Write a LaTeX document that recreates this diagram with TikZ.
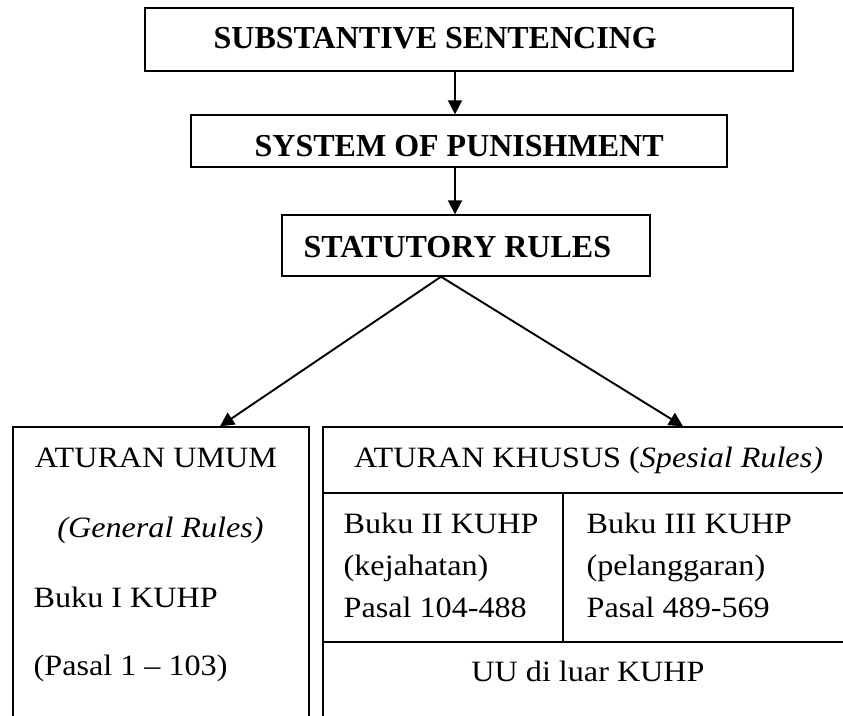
\documentclass[tikz,border=0pt]{standalone}
\usepackage{fontspec}
\setmainfont{Liberation Serif}
\newfontfamily\widefont[FakeStretch=1.09, Ligatures=TeX]{Liberation Serif}
\usetikzlibrary{arrows.meta}
\begin{document}
\begin{tikzpicture}[x=1pt, y=-1pt, line width=1.4pt,
    frame/.style={draw, rectangle, inner sep=0pt},
    head/.style={font=\fontsize{32}{38}\selectfont\bfseries, inner sep=0pt, anchor=base west},
    txt/.style={font=\widefont\fontsize{29.5}{36}\selectfont, inner sep=0pt},
    arr/.style={-{Triangle[length=14pt,width=14pt]}, line width=1.9pt}]
    \useasboundingbox (0,0) rectangle (843,715);
    \clip (0,0) rectangle (843,715);

    % Kotak atas
    \node[frame, minimum width=648, minimum height=63] (b1) at (469,39.5) {};
    \node[frame, minimum width=536, minimum height=52] (b2) at (459,141) {};
    \node[frame, minimum width=368, minimum height=61] (b3) at (466,245.5) {};
    \node[head] (t1) at (213,48) {SUBSTANTIVE SENTENCING};
    \node[head] (t2) at (254,156) {SYSTEM OF PUNISHMENT};
    \node[head] (t3) at (303,257) {STATUTORY RULES};

    % Kotak bawah (terpotong di tepi)
    \node[frame, minimum width=296, minimum height=400] (umum) at (161,627) {};
    \node[frame, minimum width=557, minimum height=400] (khusus) at (601.5,627) {};
    \draw (khusus.west |- 0,493) -- (khusus.east |- 0,493);
    \draw (khusus.west |- 0,642) -- (khusus.east |- 0,642);
    \draw (563,493) -- (563,642);

    % Panah
    \draw[arr] (b1.south -| 455,0) -- (b2.north -| 455,0);
    \draw[arr] (b2.south -| 455,0) -- (b3.north -| 455,0);
    \coordinate (split) at (b3.south -| 441,0);
    \draw[arr] (split) -- (umum.north -| 220,0);
    \draw[arr] (split) -- (khusus.north -| 683,0);

    % Aturan umum
    \node[txt, anchor=base] (umumA) at (156,467) {ATURAN UMUM};
    \node[txt, anchor=base] (umumB) at (160.5,537.7) {\textit{(General Rules)}};
    \node[txt, anchor=base west] (umumC) at (33,607) {Buku I KUHP};
    \node[txt, anchor=base west] (umumD) at (33,675) {(Pasal 1 -- 103)};

    % Aturan khusus
    \node[txt, anchor=base] (khususA) at (588.5,467) {ATURAN KHUSUS (\textit{Spesial Rules)}};
    \foreach \row/\y/\bukuII/\bukuIII in {a/533/Buku II KUHP/Buku III KUHP,
                                         b/575/(kejahatan)/(pelanggaran),
                                         c/617/Pasal 104-488/Pasal 489-569} {
        \node[txt, anchor=base west] (kej\row) at (343,\y) {\bukuII};
        \node[txt, anchor=base west] (pel\row) at (586,\y) {\bukuIII};
    }
    \node[txt, anchor=base] (uu) at (588,681) {UU di luar KUHP};
\end{tikzpicture}
\end{document}
